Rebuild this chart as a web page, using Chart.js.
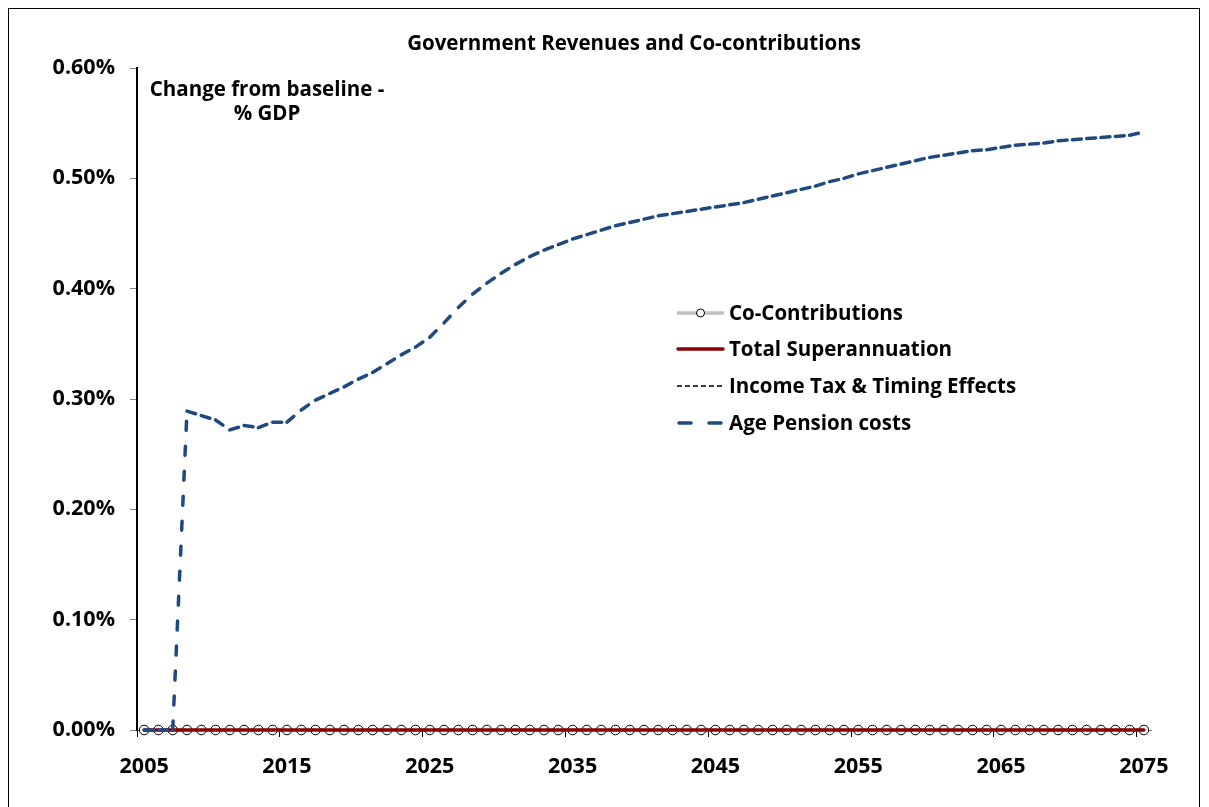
<!DOCTYPE html>
<html>
<head>
<meta charset="utf-8">
<title>Government Revenues and Co-contributions</title>
<script src="https://cdn.jsdelivr.net/npm/chart.js@4.4.1/dist/chart.umd.min.js"></script>
<style>
    html, body { margin: 0; padding: 0; background: #fff; }
    #wrap { width: 1209px; height: 807px; }
</style>
</head>
<body>
<div id="wrap"><canvas id="chart" width="1209" height="807"></canvas></div>
<script>
// Years on the category axis
const years = [
    2005, 2006, 2007, 2008, 2009, 2010, 2011, 2012, 2013, 2014,
    2015, 2016, 2017, 2018, 2019, 2020, 2021, 2022, 2023, 2024,
    2025, 2026, 2027, 2028, 2029, 2030, 2031, 2032, 2033, 2034,
    2035, 2036, 2037, 2038, 2039, 2040, 2041, 2042, 2043, 2044,
    2045, 2046, 2047, 2048, 2049, 2050, 2051, 2052, 2053, 2054,
    2055, 2056, 2057, 2058, 2059, 2060, 2061, 2062, 2063, 2064,
    2065, 2066, 2067, 2068, 2069, 2070, 2071, 2072, 2073, 2074,
    2075
];

// Change from baseline, % of GDP
const coContributions = [
    0, 0, 0, 0, 0, 0, 0, 0, 0, 0,
    0, 0, 0, 0, 0, 0, 0, 0, 0, 0,
    0, 0, 0, 0, 0, 0, 0, 0, 0, 0,
    0, 0, 0, 0, 0, 0, 0, 0, 0, 0,
    0, 0, 0, 0, 0, 0, 0, 0, 0, 0,
    0, 0, 0, 0, 0, 0, 0, 0, 0, 0,
    0, 0, 0, 0, 0, 0, 0, 0, 0, 0,
    0
];
const totalSuper = [
    0, 0, 0, 0, 0, 0, 0, 0, 0, 0,
    0, 0, 0, 0, 0, 0, 0, 0, 0, 0,
    0, 0, 0, 0, 0, 0, 0, 0, 0, 0,
    0, 0, 0, 0, 0, 0, 0, 0, 0, 0,
    0, 0, 0, 0, 0, 0, 0, 0, 0, 0,
    0, 0, 0, 0, 0, 0, 0, 0, 0, 0,
    0, 0, 0, 0, 0, 0, 0, 0, 0, 0,
    0
];
const incomeTax = [
    0, 0, 0, 0, 0, 0, 0, 0, 0, 0,
    0, 0, 0, 0, 0, 0, 0, 0, 0, 0,
    0, 0, 0, 0, 0, 0, 0, 0, 0, 0,
    0, 0, 0, 0, 0, 0, 0, 0, 0, 0,
    0, 0, 0, 0, 0, 0, 0, 0, 0, 0,
    0, 0, 0, 0, 0, 0, 0, 0, 0, 0,
    0, 0, 0, 0, 0, 0, 0, 0, 0, 0,
    0
];
const agePension = [
    0.000, 0.000, 0.000, 0.289, 0.285, 0.281, 0.272, 0.276, 0.274, 0.279,
    0.279, 0.290, 0.299, 0.305, 0.311, 0.318, 0.324, 0.332, 0.340, 0.347,
    0.356, 0.369, 0.383, 0.395, 0.405, 0.414, 0.422, 0.429, 0.435, 0.440,
    0.445, 0.449, 0.453, 0.457, 0.460, 0.463, 0.466, 0.468, 0.470, 0.472,
    0.474, 0.476, 0.478, 0.481, 0.484, 0.487, 0.490, 0.493, 0.497, 0.500,
    0.504, 0.507, 0.510, 0.513, 0.516, 0.519, 0.521, 0.523, 0.525, 0.526,
    0.528, 0.530, 0.531, 0.532, 0.534, 0.535, 0.536, 0.537, 0.538, 0.539,
    0.542
];

const yTicks = [0, 0.1, 0.2, 0.3, 0.4, 0.5, 0.6];

const FONT = '"Open Sans", Lato, sans-serif';
const blue = '#1f4a80', red = '#8b0000', grey = '#c0c0c0';

// frame, titles and the in-plot legend
const decorations = {
    id: 'decorations',
    afterDraw(chart) {
        const c = chart.ctx;
        c.save();
        c.strokeStyle = '#000';
        c.lineWidth = 1;
        c.strokeRect(8.5, 8.5, 1191, 820);

        c.fillStyle = '#000';
        c.textAlign = 'center';
        c.textBaseline = 'middle';
        c.font = 'bold 20.5px ' + FONT;
        c.fillText('Government Revenues and Co-contributions', 634, 44);
        c.font = 'bold 20.5px ' + FONT;
        c.fillText('Change from baseline -', 267, 90);
        c.fillText('% GDP', 267, 114);

        // legend rows
        const x0 = 677, x1 = 724, tx = 729;
        const rows = [313, 349, 386, 423];
        const ds = chart.data.datasets;
        c.textAlign = 'left';
        c.font = 'bold 20.5px ' + FONT;

        c.lineCap = 'butt';
        c.strokeStyle = grey; c.lineWidth = 3.5;
        c.beginPath(); c.moveTo(x0, rows[0]); c.lineTo(x1, rows[0]); c.stroke();
        c.fillStyle = '#fff'; c.strokeStyle = '#000'; c.lineWidth = 1;
        c.beginPath(); c.arc((x0 + x1) / 2, rows[0], 4, 0, Math.PI * 2); c.fill(); c.stroke();

        c.strokeStyle = red; c.lineWidth = 3.5; c.lineCap = 'round';
        c.beginPath(); c.moveTo(x0 + 1, rows[1]); c.lineTo(x1 - 1, rows[1]); c.stroke();

        c.strokeStyle = '#000'; c.lineWidth = 1.5; c.lineCap = 'butt';
        c.setLineDash([5, 3]);
        c.beginPath(); c.moveTo(x0, rows[2]); c.lineTo(x1, rows[2]); c.stroke();

        c.strokeStyle = blue; c.lineWidth = 3.5; c.lineCap = 'round';
        c.setLineDash([12, 18]);
        c.beginPath(); c.moveTo(x0 + 2, rows[3]); c.lineTo(x1, rows[3]); c.stroke();
        c.setLineDash([]);

        c.fillStyle = '#000';
        ds.forEach((d, i) => c.fillText(d.label, tx, rows[i] + 1));
        c.restore();
    }
};

new Chart(document.getElementById('chart'), {
    type: 'line',
    data: {
        labels: years,
        datasets: [
            {label: 'Co-Contributions', data: coContributions, borderColor: grey, borderWidth: 3,
             pointRadius: 4.8, pointBackgroundColor: '#fff', pointBorderColor: '#000', pointBorderWidth: 1,
             clip: false, order: 4},
            {label: 'Total Superannuation', data: totalSuper, borderColor: red, borderWidth: 3.5,
             borderCapStyle: 'round', pointRadius: 0, clip: false, order: 3},
            {label: 'Income Tax & Timing Effects', data: incomeTax, borderColor: '#000', borderWidth: 1,
             borderDash: [5, 3], pointRadius: 0, order: 2},
            // dash pattern restarts on every yearly segment (alternating offset splits the path)
            {label: 'Age Pension costs', data: agePension, borderColor: blue, borderWidth: 3.5,
             borderDash: [9, 16], borderCapStyle: 'round', pointRadius: 0, clip: false, order: 1,
             segment: {borderDashOffset: s => s.p0DataIndex % 2 ? 0.01 : 0}}
        ]
    },
    options: {
        responsive: false,
        animation: false,
        devicePixelRatio: 1,
        layout: {padding: {left: 0, right: 58, top: 68, bottom: 0}},
        plugins: {legend: {display: false}, tooltip: {enabled: false}, title: {display: false}},
        elements: {line: {tension: 0}},
        scales: {
            x: {
                type: 'category',
                offset: true,
                afterFit: s => { s.height = 77; },
                grid: {
                    offset: true, drawOnChartArea: false, tickLength: 7, lineWidth: 1,
                    color: g => g.index % 10 === 0 ? '#000' : 'rgba(0,0,0,0)'
                },
                border: {display: true, color: '#808080', width: 1},
                ticks: {
                    autoSkip: false, maxRotation: 0, minRotation: 0, padding: 17, color: '#000',
                    font: {family: FONT, size: 21.5, weight: 'bold'},
                    callback: (v, i) => i % 10 === 0 ? String(years[i]) : ''
                }
            },
            y: {
                min: 0, max: 0.6,
                afterFit: s => { s.width = 137; },
                afterBuildTicks: s => { s.ticks = yTicks.map(v => ({value: v})); },
                grid: {drawOnChartArea: false, tickLength: 7, color: '#808080'},
                border: {display: true, color: '#000', width: 2},
                ticks: {
                    padding: 15, color: '#000',
                    font: {family: FONT, size: 21.5, weight: 'bold'},
                    callback: v => v.toFixed(2) + '%'
                }
            }
        }
    },
    plugins: [decorations]
});
</script>
</body>
</html>
